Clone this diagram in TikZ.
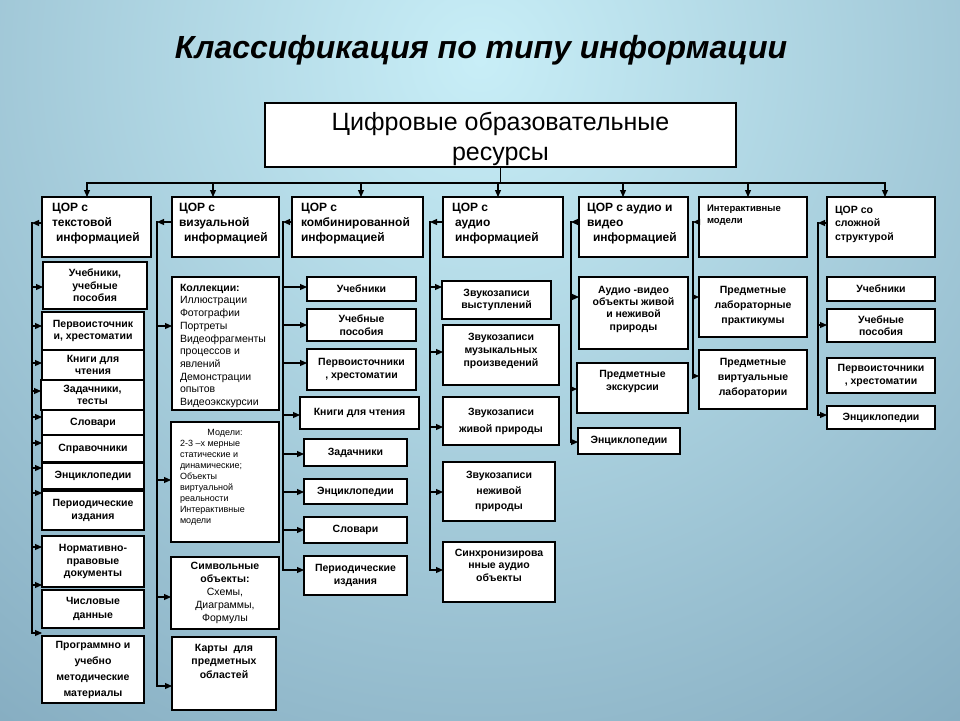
\documentclass[tikz,border=0pt]{standalone}
\usepackage{fontspec}
\setmainfont{Liberation Sans}
\usepackage{graphicx}
\usetikzlibrary{arrows.meta}
\definecolor{bgin}{RGB}{200,238,247}
\definecolor{bgout}{RGB}{88,128,156}
\tikzset{
  box/.style={draw=black, fill=white, line width=1.1pt, inner sep=0pt, outer sep=0pt},
  conn/.style={draw=black, line width=1.1pt, line cap=rect},
  arr/.style={conn, -{Triangle[length=7pt,width=6pt]}},
}
\newcommand\bx[7]{%
  \pgfmathsetmacro\bxw{#4-#2}\pgfmathsetmacro\bxh{#5-#3}%
  \node[box,anchor=north west] (#1) at (#2,#3) {\parbox[c][\bxh pt][#6]{\bxw pt}{#7}};}
\newcommand\hd[4]{\vspace*{#1pt}\raggedright\leftskip=#2pt\bfseries\fontsize{#3}{#4}\selectfont}
\newcommand\cbs[1]{\centering\bfseries\fontsize{10.5}{#1}\selectfont}
\newcommand\cb{\cbs{12.5}}
\begin{document}
\begin{tikzpicture}[x=1pt,y=-1pt]
\useasboundingbox (0,0) rectangle (960,720);
\begin{scope}
  \clip (0,0) rectangle (960,720);
  \shade[inner color=bgin, outer color=bgout] (480,60) circle (1400);
\end{scope}

\node[font=\bfseries\itshape\fontsize{32}{35}\selectfont] (title) at (481,50) {Классификация по типу информации};

\bx{main}{265}{103}{736}{167}{t}{\vspace*{9pt}\centering\fontsize{25}{30}\selectfont Цифровые образовательные\\ресурсы}

% headers
\bx{h1}{42}{197}{151}{257}{t}{\hd{6}{10}{12}{15}ЦОР с\\текстовой\\\hspace*{4pt}информацией}
\bx{h2}{172}{197}{279}{257}{t}{\hd{6}{7}{12}{15}ЦОР с\\визуальной\\\hspace*{5pt}информацией}
\bx{h3}{292}{197}{423}{257}{t}{\hd{6}{9}{12}{15}ЦОР с\\комбинированной\\информацией}
\bx{h4}{443}{197}{563}{257}{t}{\hd{6}{9}{12}{15}ЦОР с\\\hspace*{3pt}аудио\\\hspace*{3pt}информацией}
\bx{h5}{579}{197}{688}{257}{t}{\hd{6}{8}{12}{15}ЦОР с аудио и\\видео\\\hspace*{6pt}информацией}
\bx{h6}{699}{197}{807}{257}{t}{\hd{8}{8}{9.5}{12}Интерактивные\\модели}
\bx{h7}{827}{197}{935}{257}{t}{\hd{9}{8}{10.5}{13.5}ЦОР со\\сложной\\структурой}

% text column
\bx{t1}{43}{262}{147}{309}{c}{\cb Учебники,\\учебные\\пособия}
\bx{t2}{42}{312}{144}{350}{c}{\cb Первоисточник\\и, хрестоматии}
\bx{t3}{42}{350}{144}{380}{c}{\cb Книги для\\чтения}
\bx{t4}{41}{380}{144}{410}{c}{\cb Задачники,\\тесты}
\bx{t5}{42}{410}{144}{435}{c}{\cb Словари}
\bx{t6}{42}{435}{144}{462}{c}{\cb Справочники}
\bx{t7}{42}{463}{144}{489}{c}{\cb Энциклопедии}
\bx{t8}{42}{491}{144}{530}{c}{\cb Периодические\\издания}
\bx{t9}{42}{536}{144}{587}{c}{\cb Нормативно-\\правовые\\документы}
\bx{t10}{42}{590}{144}{628}{c}{\cbs{14}Числовые\\данные}
\bx{t11}{42}{636}{144}{703}{c}{\cbs{16}Программно и\\учебно\\методические\\материалы}

% visual column
\bx{v1}{172}{277}{279}{410}{t}{\vspace*{7pt}\raggedright\leftskip=8pt\fontsize{10.5}{12.7}\selectfont\textbf{Коллекции:}\\Иллюстрации\\Фотографии\\Портреты\\Видеофрагменты\\процессов и\\явлений\\Демонстрации\\опытов\\Видеоэкскурсии}
\bx{v2}{171}{422}{279}{542}{t}{\vspace*{7pt}{\centering\fontsize{9}{11.1}\selectfont Модели:\par}{\raggedright\leftskip=9pt\fontsize{9}{11.1}\selectfont 2-3 –х мерные\\статические и\\динамические;\\Объекты\\виртуальной\\реальности\\Интерактивные\\модели\par}}
\bx{v3}{171}{557}{279}{629}{c}{\centering\fontsize{10.5}{13}\selectfont\textbf{Символьные}\\\textbf{объекты:}\\Схемы,\\Диаграммы,\\Формулы}
\bx{v4}{172}{637}{276}{710}{t}{\vspace*{7pt}\cbs{13.5}Карты\ \ для\\предметных\\областей}

% combined column
\bx{c1}{307}{277}{416}{301}{c}{\cb Учебники}
\bx{c2}{307}{309}{416}{341}{c}{\cb Учебные\\пособия}
\bx{c3}{307}{349}{416}{390}{c}{\cb Первоисточники\\, хрестоматии}
\bx{c4}{300}{397}{419}{429}{c}{\cb Книги для чтения}
\bx{c5}{304}{439}{407}{466}{c}{\cb Задачники}
\bx{c6}{304}{479}{407}{504}{c}{\cb Энциклопедии}
\bx{c7}{304}{517}{407}{543}{c}{\cb Словари}
\bx{c8}{304}{556}{407}{595}{c}{\cb Периодические\\издания}

% audio column
\bx{a1}{442}{281}{551}{319}{c}{\cb Звукозаписи\\выступлений}
\bx{a2}{443}{325}{559}{385}{t}{\vspace*{8pt}\cbs{13}Звукозаписи\\музыкальных\\произведений}
\bx{a3}{443}{397}{559}{445}{c}{\cbs{17}Звукозаписи\\живой природы}
\bx{a4}{443}{462}{555}{521}{c}{\cbs{15.5}Звукозаписи\\неживой\\природы}
\bx{a5}{443}{542}{555}{602}{t}{\vspace*{7pt}\cbs{12.5}Синхронизирова\\нные аудио\\объекты}

% audio-video column
\bx{av1}{579}{277}{688}{349}{t}{\vspace*{9pt}\cbs{12.3}Аудио -видео\\объекты живой\\и неживой\\природы}
\bx{av2}{577}{363}{688}{413}{t}{\vspace*{7pt}\cbs{13}Предметные\\экскурсии}
\bx{av3}{578}{428}{680}{454}{c}{\cb Энциклопедии}

% interactive column
\bx{i1}{699}{277}{807}{337}{t}{\vspace*{9pt}\cbs{15}Предметные\\лабораторные\\практикумы}
\bx{i2}{699}{350}{807}{409}{t}{\vspace*{8pt}\cbs{15}Предметные\\виртуальные\\лаборатории}

% complex column
\bx{s1}{827}{277}{935}{301}{c}{\cb Учебники}
\bx{s2}{827}{309}{935}{342}{c}{\cb Учебные\\пособия}
\bx{s3}{827}{358}{935}{393}{c}{\cb Первоисточники\\, хрестоматии}
\bx{s4}{827}{406}{935}{429}{c}{\cb Энциклопедии}

% top bus
\coordinate (bl) at (87,183);
\coordinate (br) at (885,183);
\draw[conn] (bl) -- (br);
\draw[conn] (main.south) -- (main.south |- bl);
\foreach \n/\xx in {h1/87,h2/213,h3/361,h4/498,h5/623,h6/748,h7/885}{
  \coordinate (q) at (\xx,183);
  \draw[arr] (q) -- (q |- \n.north);
}

% column buses: header arrow, vertical line, arrows to children
\foreach \hh/\bxx/\hy/\ly/\kids in {
  h1/32/223/633/{t1/287,t2/326,t3/363,t4/391,t5/417,t6/443,t7/468,t8/493,t9/547,t10/585,t11/633},
  h2/157/222/686/{v1/326,v2/480,v3/597,v4/686},
  h3/283/222/570/{c1/287,c2/325,c3/363,c4/415,c5/454,c6/492,c7/530,c8/570},
  h4/430/222/570/{a1/287,a2/352,a3/427,a4/492,a5/570},
  h5/571/222/442/{av1/297,av2/389,av3/442},
  h6/693/222/376/{i1/297,i2/376},
  h7/818/223/415/{s2/325,s4/415}}{
  \coordinate (top) at (\bxx,\hy);
  \coordinate (bot) at (\bxx,\ly);
  \draw[arr] (top -| \hh.west) -- (top);
  \draw[conn] (top) -- (bot);
  \foreach \n/\yy in \kids {
    \coordinate (p) at (\bxx,\yy);
    \draw[arr] (p) -- (p -| \n.west);
  }
}
\end{tikzpicture}
\end{document}
